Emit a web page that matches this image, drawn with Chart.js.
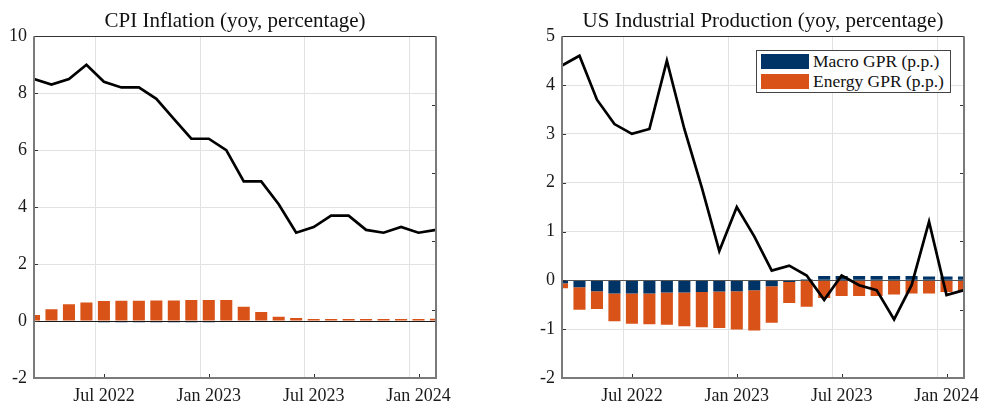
<!DOCTYPE html>
<html>
<head>
<meta charset="utf-8">
<script src="https://cdn.jsdelivr.net/npm/chart.js@4.4.1/dist/chart.umd.min.js"></script>
<style>
  html, body { margin: 0; padding: 0; background: #fff; }
  #wrap { position: relative; width: 984px; height: 405px; overflow: hidden; }
  canvas { position: absolute; top: 0; }
  #cpi { left: 0; }
  #ip { left: 492px; }
  #legend {
    position: absolute; left: 756px; top: 50px; width: 193px; height: 41px;
    border: 1px solid #444; background: #fff;
    font-family: "Liberation Serif", serif; font-size: 17.5px; color: #111;
  }
  .item { position: absolute; left: 4px; height: 15px; display: flex; align-items: center; }
  .sw { width: 48px; height: 15px; margin-right: 4px; }
  .lab { white-space: nowrap; line-height: 15px; }
</style>
</head>
<body>
<div id="wrap">
  <canvas id="cpi" width="492" height="405"></canvas>
  <canvas id="ip" width="492" height="405"></canvas>
  <div id="legend"></div>
</div>
<script>
// Monthly observations, Mar 2022 - Feb 2024
const months = [
  'Mar 2022', 'Apr 2022', 'May 2022', 'Jun 2022', 'Jul 2022', 'Aug 2022',
  'Sep 2022', 'Oct 2022', 'Nov 2022', 'Dec 2022', 'Jan 2023', 'Feb 2023',
  'Mar 2023', 'Apr 2023', 'May 2023', 'Jun 2023', 'Jul 2023', 'Aug 2023',
  'Sep 2023', 'Oct 2023', 'Nov 2023', 'Dec 2023', 'Jan 2024', 'Feb 2024'
];

// CPI inflation (yoy, %) and GPR contributions (p.p.)
const cpiInflation = [8.5, 8.3, 8.5, 9.0, 8.4, 8.2, 8.2, 7.8, 7.1, 6.4, 6.4, 6.0,
                      4.9, 4.9, 4.1, 3.1, 3.3, 3.7, 3.7, 3.2, 3.1, 3.3, 3.1, 3.2];
const cpiMacroGPR = [0, -0.01, -0.01, -0.01, -0.04, -0.04, -0.04, -0.04, -0.04, -0.04, -0.04, -0.03,
                     -0.01, 0, 0, 0, 0, 0, 0, 0, 0, 0, 0, 0];
const cpiEnergyGPR = [0.21, 0.41, 0.59, 0.655, 0.70, 0.71, 0.71, 0.725, 0.725, 0.735, 0.735, 0.735,
                      0.50, 0.32, 0.15, 0.105, 0.07, 0.07, 0.07, 0.07, 0.07, 0.07, 0.07, 0.08];

// US industrial production (yoy, %) and GPR contributions (p.p.)
const ipGrowth = [4.4, 4.6, 3.7, 3.2, 3.0, 3.1, 4.5, 3.1, 1.9, 0.6, 1.5, 0.9,
                  0.2, 0.3, 0.1, -0.4, 0.1, -0.1, -0.2, -0.8, -0.1, 1.2, -0.3, -0.2];
const ipMacroGPR = [-0.06, -0.14, -0.225, -0.27, -0.27, -0.27, -0.25, -0.25, -0.24, -0.23, -0.225, -0.205,
                    -0.12, -0.035, 0.02, 0.09, 0.09, 0.09, 0.09, 0.09, 0.09, 0.08, 0.08, 0.08];
const ipEnergyGPR = [-0.10, -0.46, -0.36, -0.57, -0.62, -0.63, -0.66, -0.69, -0.72, -0.745, -0.78, -0.82,
                     -0.75, -0.43, -0.54, -0.36, -0.32, -0.32, -0.32, -0.29, -0.27, -0.27, -0.24, -0.23];

const seriesNames = ['Macro GPR (p.p.)', 'Energy GPR (p.p.)'];
const seriesColors = ['#003366', '#D95319'];

const FONT = '"Liberation Serif", "Times New Roman", serif';
Chart.defaults.font.family = FONT;
Chart.defaults.font.size = 18;
Chart.defaults.color = '#1a1a1a';

const isLabelled = lab => /^(Jan|Jul)/.test(lab);

// Axes box, inward tick marks and the zero baseline
const framePlugin = {
  id: 'frame',
  beforeDatasetDraw(chart, args, opts) {
    if (args.meta.type !== 'line') return;
    const { ctx, chartArea: a, scales: { y } } = chart;
    const y0 = Math.round(y.getPixelForValue(0)) + 0.5;
    ctx.save();
    ctx.strokeStyle = opts.baseColor;
    ctx.lineWidth = 1.2;
    ctx.beginPath();
    ctx.moveTo(a.left, y0);
    ctx.lineTo(a.right, y0);
    ctx.stroke();
    ctx.restore();
  },
  afterDraw(chart) {
    const { ctx, chartArea: a, scales: { x, y } } = chart;
    ctx.save();
    ctx.strokeStyle = '#333';
    ctx.lineWidth = 1;
    ctx.beginPath();
    y.ticks.forEach(t => {
      const py = Math.round(y.getPixelForValue(t.value)) + 0.5;
      ctx.moveTo(a.left, py); ctx.lineTo(a.left + 4, py);
    });
    for (let i = 1; i < 5; i++) {
      const py = Math.round(a.top + i * (a.bottom - a.top) / 5) + 0.5;
      ctx.moveTo(a.right, py); ctx.lineTo(a.right - 4, py);
    }
    x.ticks.forEach((t, i) => {
      if (!isLabelled(months[i])) return;
      const px = Math.round(x.getPixelForTick(i)) + 0.5;
      ctx.moveTo(px, a.bottom); ctx.lineTo(px, a.bottom - 4);
    });
    ctx.stroke();

    ctx.strokeStyle = '#333';
    ctx.lineWidth = 1;
    ctx.beginPath();
    ctx.moveTo(a.left, Math.round(a.top) + 0.5);
    ctx.lineTo(a.right, Math.round(a.top) + 0.5);
    ctx.stroke();

    ctx.strokeStyle = '#7a7a7a';
    ctx.lineWidth = 2;
    ctx.beginPath();
    ctx.moveTo(a.left, a.top);
    ctx.lineTo(a.left, a.bottom);
    ctx.lineTo(a.right, a.bottom);
    ctx.lineTo(a.right, a.top);
    ctx.stroke();
    ctx.restore();
  }
};

function makeChart(id, title, line, macro, energy, yMin, yMax, step, axisWidth, padRight, baseColor) {
  return new Chart(document.getElementById(id), {
    data: {
      labels: months,
      datasets: [
        { type: 'line', label: title, data: line, borderColor: '#000', borderWidth: 2.7,
          pointRadius: 0, tension: 0, stack: 'line', order: 0 },
        { type: 'bar', label: seriesNames[0], data: macro, backgroundColor: seriesColors[0],
          stack: 'gpr', order: 1, barPercentage: 0.69, categoryPercentage: 1 },
        { type: 'bar', label: seriesNames[1], data: energy, backgroundColor: seriesColors[1],
          stack: 'gpr', order: 1, barPercentage: 0.69, categoryPercentage: 1 }
      ]
    },
    options: {
      responsive: false,
      animation: false,
      devicePixelRatio: 1,
      events: [],
      layout: { padding: { top: 0, right: padRight, bottom: 0, left: 0 } },
      plugins: {
        legend: { display: false },
        tooltip: { enabled: false },
        title: {
          display: true, text: title, fullSize: false, color: '#111',
          font: { family: FONT, size: 21, weight: 'normal', lineHeight: 1.2 },
          padding: { top: 9, bottom: 2 }
        },
        frame: { baseColor }
      },
      scales: {
        x: {
          type: 'category',
          offset: false,
          stacked: true,
          border: { display: false },
          grid: {
            drawTicks: false,
            color: c => (c.tick && isLabelled(months[c.index])) ? '#e2e2e2' : 'rgba(0,0,0,0)'
          },
          ticks: {
            autoSkip: false, maxRotation: 0, padding: 7,
            callback: function (v, i) { const l = this.getLabelForValue(v); return isLabelled(l) ? l : ''; }
          },
          afterFit: s => { s.height = 27; }
        },
        y: {
          min: yMin, max: yMax, stacked: true,
          border: { display: false },
          grid: { drawTicks: false, color: '#e2e2e2' },
          ticks: { stepSize: step, padding: 7 },
          afterFit: s => { s.width = axisWidth; }
        }
      }
    },
    plugins: [framePlugin]
  });
}

makeChart('cpi', 'CPI Inflation (yoy, percentage)', cpiInflation, cpiMacroGPR, cpiEnergyGPR,
          -2, 10, 2, 34, 56, '#1a1a1a');
makeChart('ip', 'US Industrial Production (yoy, percentage)', ipGrowth, ipMacroGPR, ipEnergyGPR,
          -2, 5, 1, 70, 20, '#555');

// Legend for the GPR contributions
const legend = document.getElementById('legend');
seriesNames.forEach((name, i) => {
  const item = document.createElement('div');
  item.className = 'item';
  item.style.top = (3 + i * 20) + 'px';
  const sw = document.createElement('div');
  sw.className = 'sw';
  sw.style.background = seriesColors[i];
  const lab = document.createElement('span');
  lab.className = 'lab';
  lab.textContent = name;
  item.appendChild(sw);
  item.appendChild(lab);
  legend.appendChild(item);
});
</script>
</body>
</html>
